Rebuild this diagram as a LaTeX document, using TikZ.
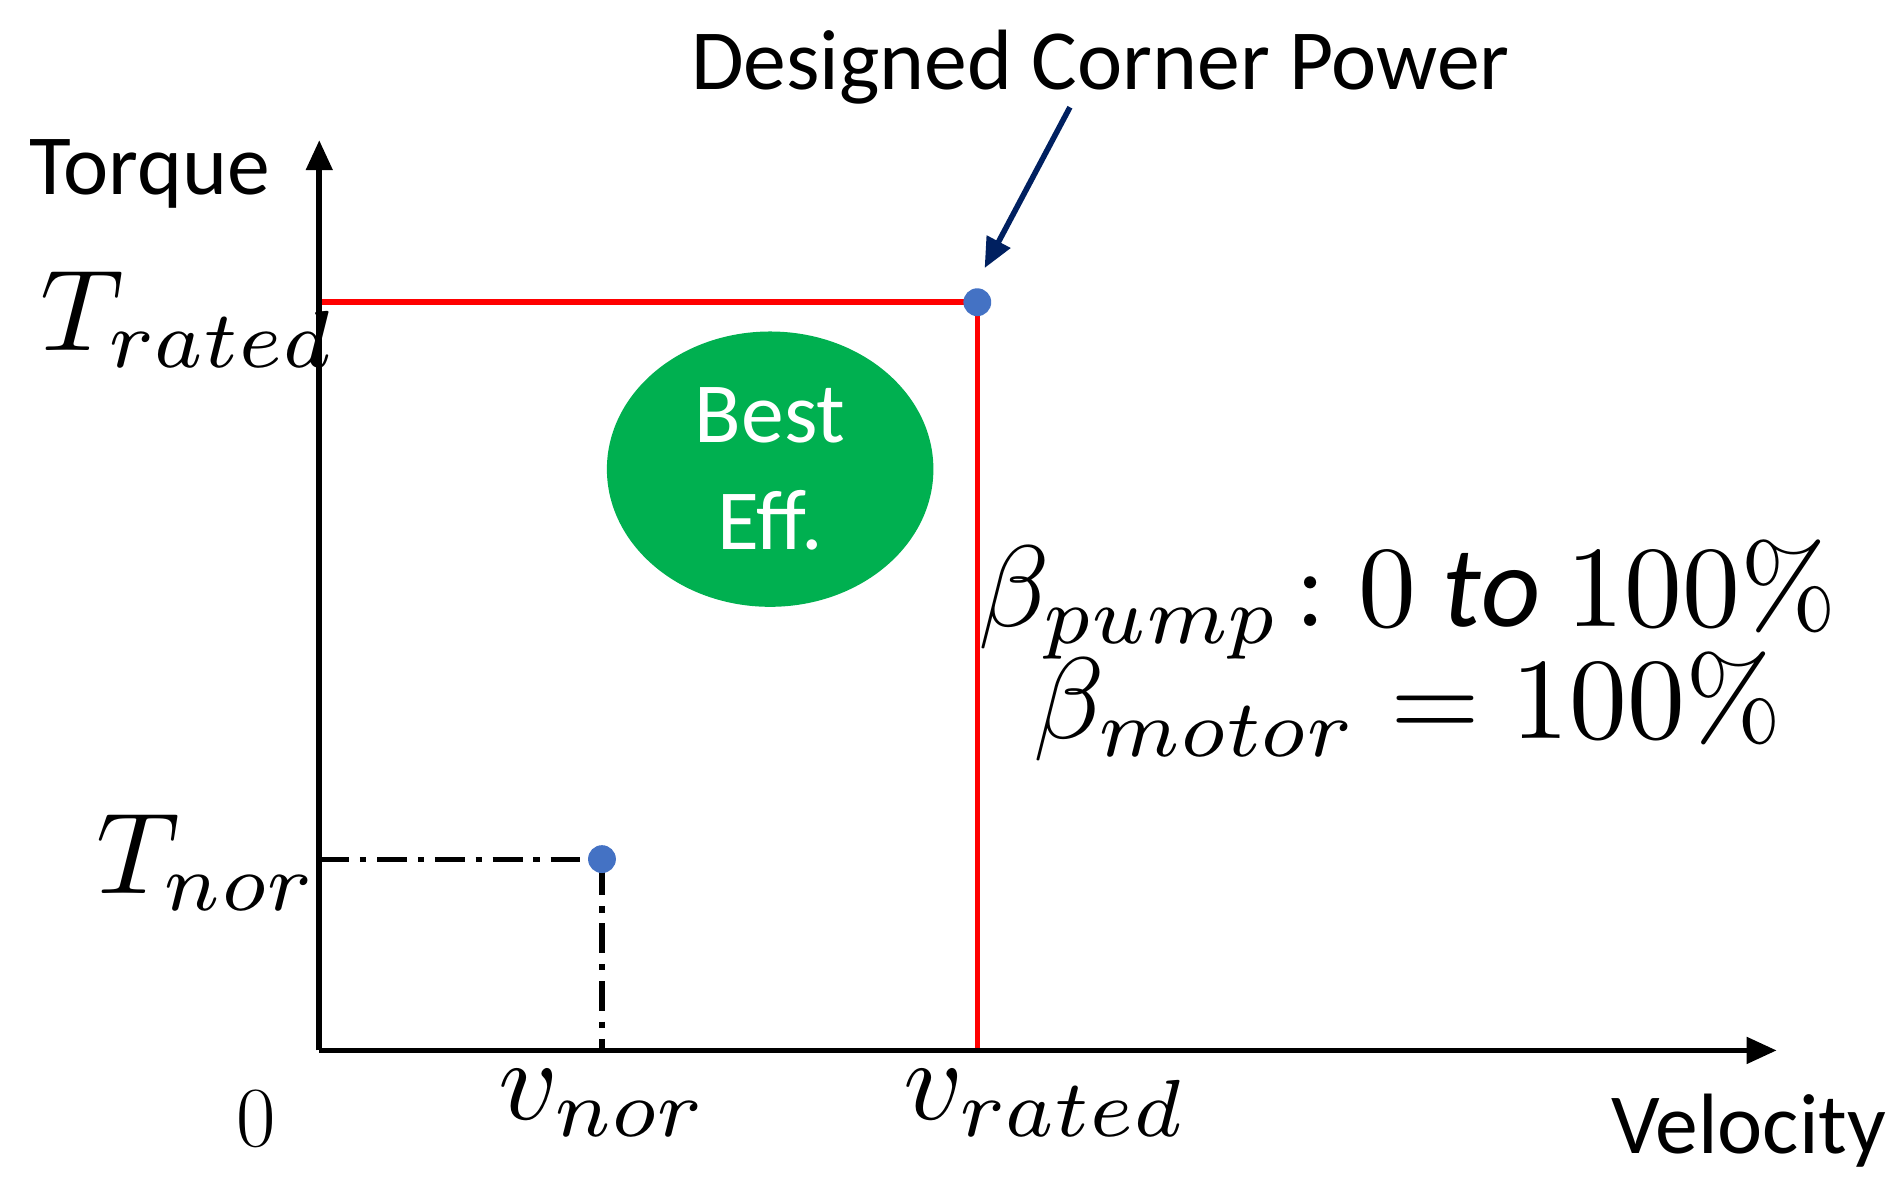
\documentclass[tikz,border=0pt]{standalone}
\usepackage{fontspec}
\setmainfont{Carlito}
\newfontfamily\lmr{Latin Modern Roman}
\usepackage{amsmath}
\usetikzlibrary{arrows.meta,shapes.geometric}
\definecolor{bgreen}{RGB}{0,176,80}
\definecolor{dotblue}{RGB}{68,114,196}
\definecolor{navy}{RGB}{0,32,96}
\newcommand{\mth}[1]{\scalebox{5.4}{$#1$}}
\newcommand{\pct}{\text{\lmr\%}}
\begin{document}
\begin{tikzpicture}[x=0.02cm,y=-0.02cm,
  ax/.style={line width=2.6pt,-{Triangle[length=14pt,width=12pt]}},
  red/.style={draw=red,line width=2.6pt},
  dd/.style={line width=2.4pt,dash pattern=on 14pt off 5pt on 3pt off 5pt},
  lab/.style={font=\fontsize{40}{46}\selectfont},
  mlab/.style={font=\normalsize},
  dot/.style={circle,fill=dotblue,inner sep=0pt,minimum size=13pt}]
\useasboundingbox (0,0) rectangle (1560,973);
\coordinate (O) at (262,862);
\coordinate (ytop) at (262,115);
\coordinate (xend) at (1458,862);
\coordinate (tr) at (262,248);
\coordinate (vr) at (802,862);
\coordinate (tn) at (262,705);
\coordinate (vn) at (494,862);
\draw[red] (tr) -- (802,248) -- (vr);
\draw[dd] (tn) -- (494,705) -- (vn);
\draw[ax] (O) -- (ytop);
\draw[ax] (O) -- (xend);
\node[dot] (P) at (802,248) {};
\node[dot] (N) at (494,705) {};
\node[ellipse,fill=bgreen,minimum width=5.36cm,minimum height=4.52cm,inner sep=0pt,text=white,align=center,font=\fontsize{40}{46}\selectfont] (be) at (632,385) {Best\\[4pt]Eff.};
\node[lab] (tq) at (123,143) {Torque};
\node[lab] (vel) at (1435,928) {Velocity};
\node[lab] (zero) at (210,918) {\lmr 0};
\node[lab] (dcp) at (903,55) {Designed Corner Power};
\coordinate (as) at (878,88);
\draw[navy,line width=2.6pt,-{Triangle[length=14pt,width=12pt]}] (as) -- (808,220);
\node[mlab] (ltr) at (155,262) {\mth{T_{rated}}};
\node[mlab] (ltn) at (170,708) {\mth{T_{nor}}};
\node[mlab] (lvn) at (495,905) {\mth{v_{nor}}};
\node[mlab] (lvr) at (858,905) {\mth{v_{rated}}};
\node[mlab] (b1) at (1155,492) {\mth{\beta_{pump}\!: 0\ \mathit{to}\ 100\pct}};
\node[mlab] (b2) at (1155,580) {\mth{\beta_{motor} = 100\pct}};
\end{tikzpicture}
\end{document}
